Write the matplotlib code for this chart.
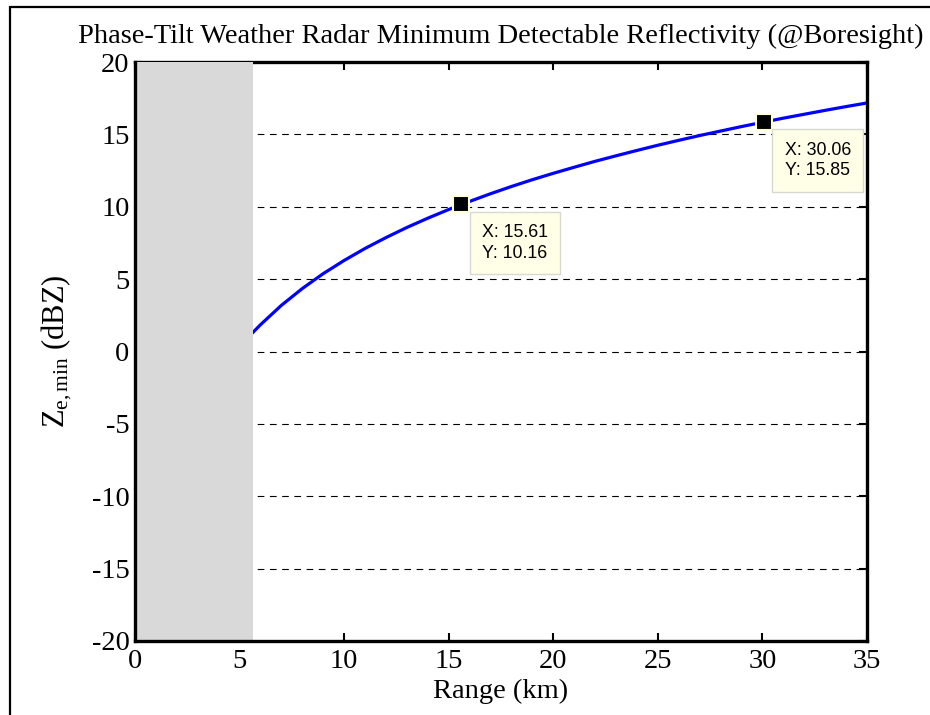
"""Phase-tilt radar minimum detectable reflectivity vs range, MATLAB-figure look."""

import matplotlib

matplotlib.use("Agg")
import matplotlib.pyplot as plt  # noqa: E402
from matplotlib.patches import Rectangle  # noqa: E402

# range (km) and Ze,min (dBZ)
range_km = [5.64, 6, 7, 8, 9, 10, 11, 12, 13, 14, 15, 15.61, 16, 17, 18, 19, 20,
            21, 22, 23, 24, 25, 26, 27, 28, 29, 30.06, 31, 32, 33, 34, 35]
ze_min = [1.32, 1.85, 3.19, 4.35, 5.38, 6.29, 7.12, 7.87, 8.57, 9.21, 9.81, 10.16,
          10.37, 10.90, 11.40, 11.87, 12.31, 12.73, 13.14, 13.52, 13.89, 14.25,
          14.59, 14.92, 15.23, 15.54, 15.85, 16.12, 16.39, 16.66, 16.92, 17.17]

# blind zone (no valid data) and the two data tips
blind_start, blind_end = 0.0, 5.64
tips_x = [15.61, 30.06]
tips_y = [10.16, 15.85]

x_ticks = [0, 5, 10, 15, 20, 25, 30, 35]
y_ticks = [-20, -15, -10, -5, 0, 5, 10, 15, 20]

plt.rcParams["font.family"] = ["Liberation Serif", "DejaVu Serif"]
plt.rcParams["mathtext.fontset"] = "custom"
plt.rcParams["mathtext.rm"] = "Liberation Serif"
plt.rcParams["mathtext.it"] = "Liberation Serif:italic"
plt.rcParams["axes.unicode_minus"] = False

fig = plt.figure(figsize=(9.3, 7.15), dpi=100)
ax = fig.add_axes([135 / 930, 1 - 641 / 715, 732 / 930, 579 / 715])

ax.plot(range_km, ze_min, color="#0000ff", lw=2.3, zorder=3, clip_on=False)

# dashed horizontal grid only
for yv in y_ticks[1:-1]:
    ax.axhline(yv, color="black", lw=0.8, ls=(0, (6, 5)), zorder=1)

ax.add_patch(Rectangle((blind_start, -20), blind_end - blind_start, 40,
                       facecolor="#d9d9d9", edgecolor="none", zorder=3.5))

ax.set_xlim(0, 35)
ax.set_ylim(-20, 20)
ax.set_xticks(x_ticks)
ax.set_yticks(y_ticks)
ax.tick_params(direction="in", length=6, width=1.5, top=True, right=True,
               labelsize=20.5, pad=4)
ax.tick_params(axis="x", pad=6)
for side in ["left", "right", "top", "bottom"]:
    ax.spines[side].set_linewidth(2.4)
ax.spines["left"].set_zorder(4)
ax.spines["bottom"].set_zorder(4)
ax.spines["right"].set_zorder(4)

ax.set_xlabel("Range (km)", fontsize=20.5, labelpad=3)
ax.set_ylabel(r"Z$_{\mathrm{e,min}}$ (dBZ)", fontsize=22, labelpad=13)
ax.set_title("Phase-Tilt Weather Radar Minimum Detectable Reflectivity (@Boresight)",
             fontsize=20.5, pad=14)

# data tips
for tx, ty in zip(tips_x, tips_y):
    ax.plot(tx, ty, marker="s", ms=11, mfc="black", mec="#ffffd8", mew=1.5, zorder=5)
    ax.annotate(f"X: {tx:.2f}\nY: {ty:.2f}", xy=(tx, ty), xytext=(15, -14),
                textcoords="offset points", ha="left", va="top",
                fontsize=12.8, family="Liberation Sans", linespacing=1.3,
                bbox=dict(boxstyle="square,pad=0.68", fc="#ffffe8", ec="#d8d8d0", lw=1),
                zorder=6)

# MATLAB figure frame
fig.patches.append(Rectangle((10 / 930, -0.1), 1.2, (715 - 7) / 715 + 0.1,
                             transform=fig.transFigure, fill=False,
                             edgecolor="black", lw=1.6))

fig.savefig("out.png", dpi=100)
